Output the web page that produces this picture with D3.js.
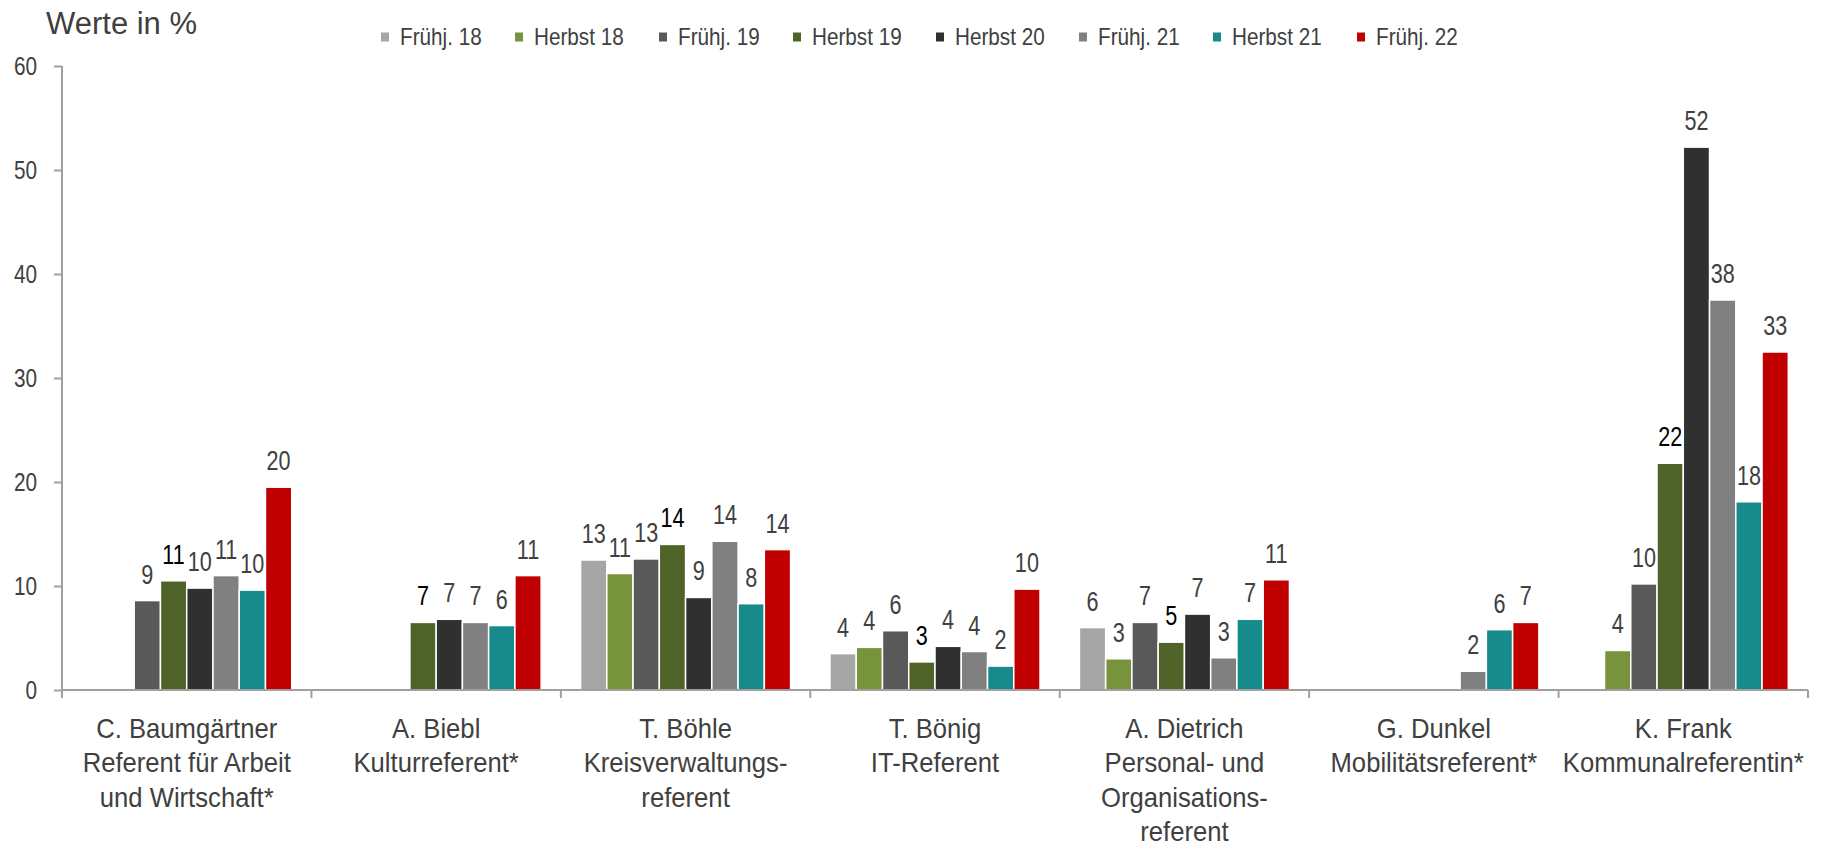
<!DOCTYPE html>
<html>
<head>
<meta charset="utf-8">
<title>Werte in %</title>
<style>
    body { margin: 0; background: #fff; }
    svg text { font-family: "Liberation Sans", Arial, sans-serif; fill: #404040; }
</style>
<script src="https://cdn.jsdelivr.net/npm/d3@7"></script>
</head>
<body>
<svg id="chart" width="1822" height="849"></svg>
<script>
var categories = [
    ["C. Baumgärtner", "Referent für Arbeit", "und Wirtschaft*"],
    ["A. Biebl", "Kulturreferent*"],
    ["T. Böhle", "Kreisverwaltungs-", "referent"],
    ["T. Bönig", "IT-Referent"],
    ["A. Dietrich", "Personal- und", "Organisations-", "referent"],
    ["G. Dunkel", "Mobilitätsreferent*"],
    ["K. Frank", "Kommunalreferentin*"]
];
var seriesNames = ["Frühj. 18", "Herbst 18", "Frühj. 19", "Herbst 19", "Herbst 20", "Frühj. 21", "Herbst 21", "Frühj. 22"];
var seriesColors = ["#a6a6a6", "#77933c", "#595959", "#4f6228", "#303030", "#808080", "#178a8b", "#c00000"];

// one array per survey, one value per person (null = not asked)
var fruehj18 = [null, null, 12.5, 3.5, 6.0, null, null];
var herbst18 = [null, null, 11.2, 4.1, 3.0, null, 3.8];
var fruehj19 = [8.6, null, 12.6, 5.7, 6.5, null, 10.2];
var herbst19 = [10.5, 6.5, 14.0, 2.7, 4.6, null, 21.8];
var herbst20 = [9.8, 6.8, 8.9, 4.2, 7.3, null, 52.2];
var fruehj21 = [11.0, 6.5, 14.3, 3.7, 3.1, 1.8, 37.5];
var herbst21 = [9.6, 6.2, 8.3, 2.3, 6.8, 5.8, 18.1];
var fruehj22 = [19.5, 11.0, 13.5, 9.7, 10.6, 6.5, 32.5];
var seriesValues = [fruehj18, herbst18, fruehj19, herbst19, herbst20, fruehj21, herbst21, fruehj22];
var yTicks = [0, 10, 20, 30, 40, 50, 60];

var margin = { left: 62, right: 14, top: 66, bottom: 159 };
var width = 1822, height = 849;
var svg = d3.select("#chart");

// the original uses a narrow face; squeeze Liberation Sans horizontally
var tickSqueeze = 0.83, labelSqueeze = 0.8, legendSqueeze = 0.9, catSqueeze = 0.95;

var x0 = d3.scaleBand()
    .domain(d3.range(categories.length))
    .range([margin.left, width - margin.right])
    .paddingInner(0)
    .paddingOuter(0);

var x1 = d3.scaleBand()
    .domain(d3.range(seriesNames.length))
    .range([0, x0.bandwidth()])
    .paddingOuter(0.75)
    .paddingInner(0);

var y = d3.scaleLinear()
    .domain([0, 60])
    .range([height - margin.bottom, margin.top]);

// y axis
var yAxis = svg.append("g")
    .attr("transform", "translate(" + margin.left + ",0)")
    .call(d3.axisLeft(y).tickValues(yTicks).tickSize(8));
yAxis.select(".domain").attr("stroke", "#a0a0a0").attr("stroke-width", 2).attr("d", "M0," + y(60) + "V" + y(0));
yAxis.selectAll(".tick line").attr("stroke", "#a0a0a0").attr("stroke-width", 2);
yAxis.selectAll(".tick text")
    .attr("x", -25 / tickSqueeze)
    .attr("transform", "scale(" + tickSqueeze + ",1)")
    .style("font-size", "25px")
    .attr("fill", "#404040");

// bars
var groups = svg.append("g").selectAll("g")
    .data(categories)
    .enter()
    .append("g")
    .attr("transform", function(d, i) { return "translate(" + x0(i) + ",0)"; });

groups.each(function(c, ci) {
    var g = d3.select(this);
    var rows = seriesValues.map(function(vals, si) { return { s: si, v: vals[ci] }; })
        .filter(function(d) { return d.v !== null; });

    g.selectAll("rect")
        .data(rows)
        .enter()
        .append("rect")
        .attr("x", function(d) { return x1(d.s); })
        .attr("y", function(d) { return y(d.v); })
        .attr("width", x1.bandwidth())
        .attr("height", function(d) { return y(0) - y(d.v); })
        .attr("fill", function(d) { return seriesColors[d.s]; })
        .attr("stroke", "#fff")
        .attr("stroke-width", 1.5);

    g.selectAll("text")
        .data(rows)
        .enter()
        .append("text")
        .attr("transform", "scale(" + labelSqueeze + ",1)")
        .attr("x", function(d) { return (x1(d.s) + x1.bandwidth() / 2) / labelSqueeze; })
        .attr("y", function(d) { return y(d.v) - 17; })
        .attr("text-anchor", "middle")
        .style("font-size", "27px")
        .style("fill", function(d) { return d.s === 3 ? "#000" : "#404040"; })
        .text(function(d) { return Math.round(d.v); });
});

// x axis
var xAxis = svg.append("g");
xAxis.append("line")
    .attr("x1", margin.left)
    .attr("x2", width - margin.right)
    .attr("y1", y(0))
    .attr("y2", y(0))
    .attr("stroke", "#a0a0a0")
    .attr("stroke-width", 2);

xAxis.selectAll("line.sep")
    .data(d3.range(categories.length + 1))
    .enter()
    .append("line")
    .attr("class", "sep")
    .attr("x1", function(i) { return margin.left + i * x0.bandwidth(); })
    .attr("x2", function(i) { return margin.left + i * x0.bandwidth(); })
    .attr("y1", y(0))
    .attr("y2", y(0) + 8)
    .attr("stroke", "#a0a0a0")
    .attr("stroke-width", 2);

xAxis.selectAll("text")
    .data(categories)
    .enter()
    .append("text")
    .attr("transform", "scale(" + catSqueeze + ",1)")
    .attr("y", y(0) + 48)
    .attr("text-anchor", "middle")
    .style("font-size", "27px")
    .each(function(lines, i) {
        var t = d3.select(this);
        var cx = (x0(i) + x0.bandwidth() / 2) / catSqueeze;
        lines.forEach(function(line, li) {
            t.append("tspan")
                .attr("x", cx)
                .attr("dy", li === 0 ? 0 : 34.5)
                .text(line);
        });
    });

// title
svg.append("text")
    .attr("x", 46)
    .attr("y", 34)
    .style("font-size", "31px")
    .text("Werte in %");

// legend
var legendX = [381, 515, 659, 793, 936, 1079, 1213, 1357];
var legend = svg.append("g").selectAll("g")
    .data(seriesNames)
    .enter()
    .append("g")
    .attr("transform", function(d, i) { return "translate(" + legendX[i] + ",37)"; });

legend.append("rect")
    .attr("x", 0)
    .attr("y", -4.5)
    .attr("width", 8)
    .attr("height", 9)
    .attr("fill", function(d, i) { return seriesColors[i]; });

legend.append("text")
    .attr("transform", "scale(" + legendSqueeze + ",1)")
    .attr("x", 19 / legendSqueeze)
    .attr("y", 8)
    .style("font-size", "23px")
    .text(function(d) { return d; });
</script>
</body>
</html>
